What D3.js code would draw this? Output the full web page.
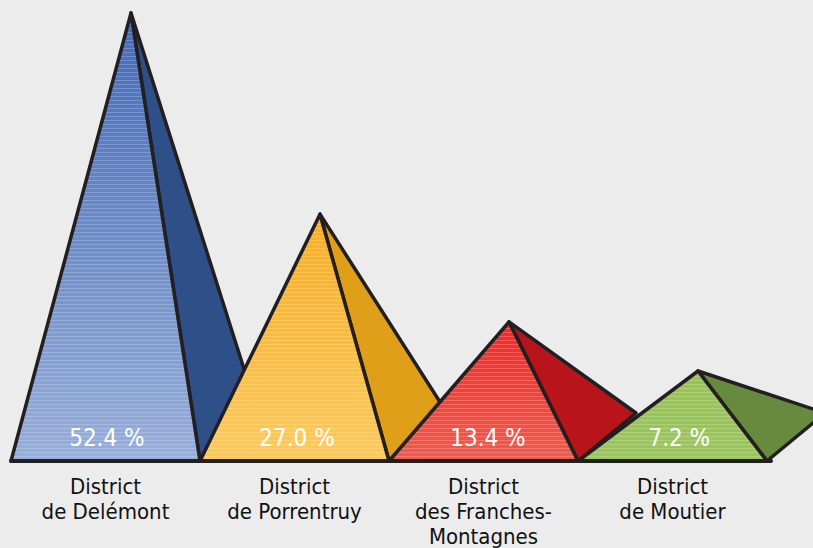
<!DOCTYPE html>
<html>
<head>
<meta charset="utf-8">
<script src="https://cdn.jsdelivr.net/npm/d3@7"></script>
<style>
  html, body { margin: 0; padding: 0; background: #ececec; }
  svg { display: block; }
</style>
</head>
<body>
<div id="chart"></div>
<script>
// Data
const districts = ["Delémont", "Porrentruy", "Franches-Montagnes", "Moutier"];
const shares = [52.4, 27.0, 13.4, 7.2];
const labelLines = [
  ["District", "de Delémont"],
  ["District", "de Porrentruy"],
  ["District", "des Franches-", "Montagnes"],
  ["District", "de Moutier"]
];
const frontTop = ["#4469b6", "#fbad1f", "#ee2a2a", "#97c354"];
const frontBottom = ["#97afdc", "#ffc958", "#f05c4e", "#9cc65e"];
const sideColors = ["#2f4f88", "#df9f18", "#b8141c", "#668b3e"];

const width = 813, height = 548;
const baseY = 461;
const fontStack = "'Liberation Sans Narrow', 'DejaVu Sans Condensed', sans-serif";

const svg = d3.select("#chart")
  .append("svg")
  .attr("width", width)
  .attr("height", height);

svg.append("rect")
  .attr("width", width)
  .attr("height", height)
  .attr("fill", "#ececec");

const defs = svg.append("defs");

// x: one band per district (front face base)
const x = d3.scaleBand()
  .domain(districts)
  .range([11, 767])
  .padding(0);

// y: apex height for each share
const y = d3.scaleLinear()
  .domain([0, 52.4])
  .range([428, 13]);

// gradients + stripe pattern
districts.forEach((d, i) => {
  const g = defs.append("linearGradient")
    .attr("id", "grad" + i)
    .attr("x1", 0).attr("y1", 0).attr("x2", 0).attr("y2", 1);
  g.append("stop").attr("offset", "0%").attr("stop-color", frontTop[i]);
  g.append("stop").attr("offset", "100%").attr("stop-color", frontBottom[i]);
});

const stripes = defs.append("pattern")
  .attr("id", "stripes")
  .attr("patternUnits", "userSpaceOnUse")
  .attr("width", 8)
  .attr("height", 4);
stripes.append("rect")
  .attr("width", 8)
  .attr("height", 1)
  .attr("fill", "#fff")
  .attr("opacity", 0.2);

const backDx = 58, backY = 413;
const apexRatio = 120 / 189;

const pyramids = svg.append("g");

districts.forEach((d, i) => {
  const left = x(d);
  const right = left + x.bandwidth();
  const apexX = left + x.bandwidth() * apexRatio;
  const apexY = y(shares[i]);

  const g = pyramids.append("g");

  // side face
  g.append("path")
    .attr("d", d3.line()([[apexX, apexY], [right, baseY], [right + backDx, backY]]) + "Z")
    .attr("fill", sideColors[i])
    .attr("stroke", "#231f20")
    .attr("stroke-width", 3.5)
    .attr("stroke-linejoin", "round");

  const front = d3.line()([[left, baseY], [apexX, apexY], [right, baseY]]) + "Z";

  g.append("path")
    .attr("d", front)
    .attr("fill", `url(#grad${i})`);

  g.append("path")
    .attr("d", front)
    .attr("fill", "url(#stripes)");

  g.append("path")
    .attr("d", front)
    .attr("fill", "none")
    .attr("stroke", "#231f20")
    .attr("stroke-width", 3.5)
    .attr("stroke-linejoin", "round");

  // percentage label, centred in the face at label height
  const ty = 437;
  const t = (baseY - ty) / (baseY - apexY);
  const lx = left + (apexX - left) * t;
  const rx = right + (apexX - right) * t;
  g.append("text")
    .attr("x", (lx + rx) / 2)
    .attr("y", 446)
    .attr("text-anchor", "middle")
    .attr("fill", "#fff")
    .style("font-family", fontStack)
    .style("font-size", "24px")
    .text(d3.format(".1f")(shares[i]) + " %");
});

// baseline
svg.append("line")
  .attr("x1", x.range()[0])
  .attr("x2", x.range()[1] + 4)
  .attr("y1", baseY)
  .attr("y2", baseY)
  .attr("stroke", "#231f20")
  .attr("stroke-width", 4)
  .attr("stroke-linecap", "round");

// category labels
const labels = svg.append("g")
  .style("font-family", fontStack)
  .style("font-size", "22px")
  .attr("fill", "#111")
  .attr("text-anchor", "middle");

districts.forEach((d, i) => {
  const cx = x(d) + x.bandwidth() / 2;
  const t = labels.append("text")
    .attr("x", cx)
    .attr("y", 494);
  labelLines[i].forEach((line, j) => {
    t.append("tspan")
      .attr("x", cx)
      .attr("dy", j === 0 ? 0 : 25)
      .text(line);
  });
});
</script>
</body>
</html>
